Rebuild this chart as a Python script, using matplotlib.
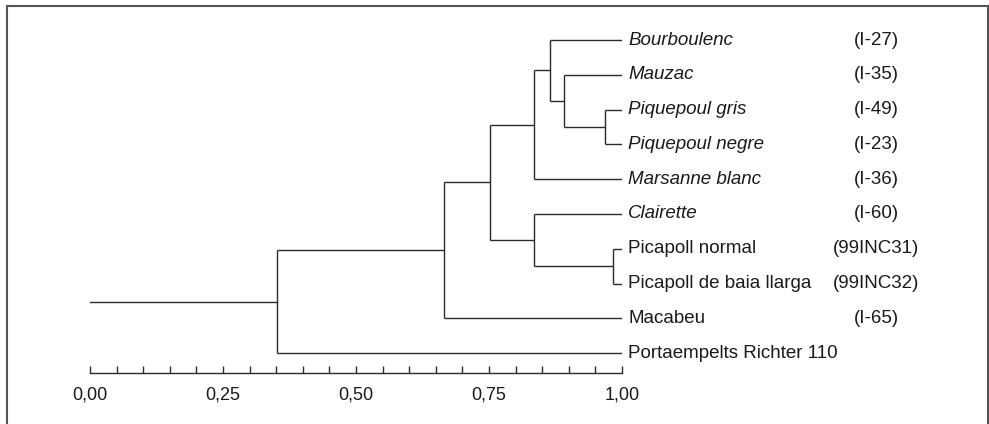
import matplotlib.pyplot as plt
from matplotlib.patches import Rectangle
import numpy as np

plt.rcParams['font.family'] = ['Liberation Sans', 'DejaVu Sans']

# leaves, top to bottom
names = ["Bourboulenc", "Mauzac", "Piquepoul gris", "Piquepoul negre",
         "Marsanne blanc", "Clairette", "Picapoll normal",
         "Picapoll de baia llarga", "Macabeu", "Portaempelts Richter 110"]
codes = ["(I-27)", "(I-35)", "(I-49)", "(I-23)", "(I-36)", "(I-60)",
         "(99INC31)", "(99INC32)", "(I-65)", ""]
italic = [True, True, True, True, True, True, False, False, False, False]

# merges: left, right, similarity (clusters numbered from 10 on)
merge_a = [2, 1, 0, 12, 6, 5, 13, 16, 17]
merge_b = [3, 10, 11, 4, 7, 14, 15, 8, 9]
merge_h = [0.968, 0.891, 0.865, 0.835, 0.983, 0.835, 0.752, 0.665, 0.351]

lc = "#2a2a2a"
fig = plt.figure(figsize=(9.89, 4.24), dpi=100)
ax = fig.add_axes([90/989, 51/424, 532/989, 367.8/424])

n = len(names)
xpos = {i: 1.0 for i in range(n)}
ypos = {i: float(i) for i in range(n)}
for k in range(len(merge_h)):
    a, b, h = merge_a[k], merge_b[k], merge_h[k]
    ax.plot([xpos[a], h], [ypos[a], ypos[a]], color=lc, lw=1.0, solid_capstyle='butt')
    ax.plot([xpos[b], h], [ypos[b], ypos[b]], color=lc, lw=1.0, solid_capstyle='butt')
    ax.plot([h, h], [ypos[a], ypos[b]], color=lc, lw=1.0, solid_capstyle='butt')
    xpos[n + k] = h
    ypos[n + k] = (ypos[a] + ypos[b]) / 2
root = n + len(merge_h) - 1
ax.plot([0, xpos[root]], [ypos[root], ypos[root]], color=lc, lw=1.0)

for i in range(n):
    ax.text(1.012, i, names[i], va='center', ha='left', fontsize=13.5,
            style='italic' if italic[i] else 'normal', color='#1a1a1a', clip_on=False)
    if codes[i]:
        ax.text(1.478, i, codes[i], va='center', ha='center', fontsize=13.5,
                color='#1a1a1a', clip_on=False)

ax.set_xlim(0, 1)
ax.set_ylim((373 - 40) / 34.8, -1)
for s in ['top', 'right', 'left']:
    ax.spines[s].set_visible(False)
ax.spines['bottom'].set_color(lc)
ax.spines['bottom'].set_linewidth(1.0)
ax.set_yticks([])
ax.set_xticks([0, 0.25, 0.5, 0.75, 1.0])
ax.set_xticklabels(["0,00", "0,25", "0,50", "0,75", "1,00"])
ax.set_xticks(np.arange(0, 1.001, 0.05), minor=True)
ax.tick_params(axis='x', which='both', direction='in', length=5, width=1.0,
               color=lc, labelsize=13, pad=10, labelcolor='#1a1a1a')

fig.patches.append(Rectangle((7/989, -0.1), 981/989, 1.1 - 6/424, transform=fig.transFigure,
                             fill=False, edgecolor='#555555', lw=1.5))

fig.savefig("out.png", dpi=100)
